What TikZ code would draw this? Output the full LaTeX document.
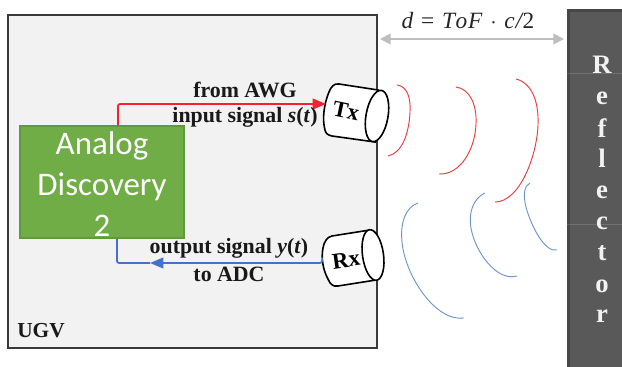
\documentclass[tikz,border=0pt]{standalone}
\usepackage{fontspec}
\setmainfont{Liberation Serif}
\newfontfamily\calibrilike{Carlito}
\usetikzlibrary{arrows.meta}
\definecolor{ugvfill}{HTML}{F2F2F2}
\definecolor{ugvedge}{HTML}{3A3A3A}
\definecolor{adgreen}{HTML}{70AD47}
\definecolor{adedge}{HTML}{5F9A3C}
\definecolor{reffill}{HTML}{595959}
\definecolor{refedge}{HTML}{474747}
\definecolor{sigred}{HTML}{F5222D}
\definecolor{sigblue}{HTML}{4472C4}
\definecolor{waveblue}{HTML}{6F94CF}
\definecolor{wavered}{HTML}{EE3B3B}
\definecolor{dimgray}{HTML}{BFBFBF}
\tikzset{
  lbl/.style={font=\fontsize{16.4}{18}\selectfont\bfseries, inner sep=0pt, text=black!90},
  reflet/.style={font=\fontsize{20}{21}\selectfont\bfseries, text=white!95!black, inner sep=0pt},
  sigline/.style={line width=1.3pt, rounded corners=1.5pt},
  sigtip/.style={-{Triangle[length=10pt,width=8pt]}},
  redwave/.style={draw=wavered, line width=0.7pt},
  bluewave/.style={draw=waveblue, line width=0.7pt},
  horn/.style={draw=black, line width=1.2pt, fill=white},
}
\begin{document}
\begin{tikzpicture}[x=0.75pt,y=-0.75pt]
\useasboundingbox (0,0) rectangle (622,367);
\fill[white] (0,0) rectangle (622,367);
% UGV body
\node[draw=ugvedge, fill=ugvfill, line width=1.2pt, minimum width=276.75pt, minimum height=249.75pt, inner sep=0pt] (ugv) at (192.5,181.5) {};
\node[lbl, font=\fontsize{16}{17}\selectfont\bfseries] (ugvlabel) at (41,331) {UGV};
% reflector
\node[draw=refedge, fill=reffill, line width=2.2pt, minimum width=41pt, minimum height=272pt, inner sep=0pt, anchor=north west] (reflector) at (567,9) {};
\draw[white, opacity=0.15, line width=0.5pt] (567,73) -- (622,73) (567,224) -- (622,224);
\node[reflet] (r1) at (602,65) {R};
\node[reflet] (r2) at (602,98) {e};
\node[reflet] (r3) at (602,128) {f};
\node[reflet] (r4) at (602,158) {l};
\node[reflet] (r5) at (602,192) {e};
\node[reflet] (r6) at (602,223) {c};
\node[reflet] (r7) at (602,253) {t};
\node[reflet] (r8) at (602,286) {o};
\node[reflet] (r9) at (602,316) {r};
% distance
\coordinate (dl) at (380,39);
\coordinate (dr) at (564,39);
\draw[dimgray, line width=1.6pt, {Triangle[length=8pt,width=8pt]}-{Triangle[length=8pt,width=8pt]}] (dl) -- (dr);
\node[inner sep=0pt, font=\fontsize{17.5}{19}\selectfont, text=black!85] (dist) at (468,21) {\textit{d}\,\,=\,\,\textit{T\kern0.5pt o\kern0.5pt F}\,\,$\cdot$\,\,\textit{c\kern0.5pt/\kern0.5pt}2};
% Analog Discovery
\node[draw=adedge, fill=adgreen, line width=1pt, minimum width=123pt, minimum height=84pt, inner sep=0pt] (ad) at (102,182) {};
\node[inner sep=0pt, text=white, font=\calibrilike\fontsize{24.7}{30.5}\selectfont, align=center] (adtext) at (102,184) {Analog\\Discovery\\2};
% antenna Tx
\coordinate (txin) at (326,104);
\draw[horn] (378,90) -- (339,84) .. controls (334,83) and (331,87) .. (329,92)
  .. controls (324,104) and (322,119) .. (325,130)
  .. controls (326,134) and (328,135) .. (332,136) -- (375,142) -- cycle;
\draw[horn, rotate around={-10:(377,116)}] (377,116) ellipse (11 and 26);
\node[inner sep=0pt, rotate=-12, font=\fontsize{17}{18}\selectfont\bfseries] (txtext) at (346,111) {Tx};
% antenna Rx
\coordinate (rxout) at (322,262);
\coordinate (bluetip) at (150,263);
\draw[horn] (370,230) -- (332,236) .. controls (327,237) and (324,242) .. (323,248)
  .. controls (321,258) and (323,270) .. (328,279)
  .. controls (330,284) and (333,287) .. (338,286) -- (376,280) -- cycle;
\draw[horn, rotate around={8:(373,255)}] (373,255) ellipse (10.5 and 25.5);
\node[inner sep=0pt, rotate=8, font=\fontsize{17}{18}\selectfont\bfseries] (rxtext) at (346,260) {Rx};
% connectors
\draw[sigline, sigred, sigtip] (ad.north -| 118,0) -- (118,104) -- (txin);
\draw[sigline, sigblue, sigtip] (rxout) -- (rxout |- bluetip) -- (bluetip);
\draw[sigline, sigblue] (bluetip) -- (117,263) -- (ad.south -| 117,0);
% labels
\node[lbl] (from) at (245,90) {from AWG};
\node[lbl] (inp) at (245,117) {input signal \textit{s}(\textit{t})};
\node[lbl] (outp) at (229,248) {output signal \textit{y}(\textit{t})};
\node[lbl] (toadc) at (229,274) {to ADC};
% waves
\draw[redwave] (397,85) .. controls (407,86) and (411,98) .. (410,112) .. controls (409,134) and (402,153) .. (388,156);
\draw[redwave] (456,87) .. controls (470,89) and (477,105) .. (476,124) .. controls (475,150) and (460,175) .. (439,174);
\draw[redwave] (516,79) .. controls (532,83) and (539,102) .. (538,125) .. controls (537,155) and (520,202) .. (495,202);
\draw[bluewave] (418,203) .. controls (406,207) and (400,222) .. (402,242) .. controls (405,275) and (435,322) .. (464,318);
\draw[bluewave] (485,193) .. controls (474,198) and (468,212) .. (471,228) .. controls (475,252) and (497,282) .. (517,276);
\draw[bluewave] (530,183) .. controls (524,186) and (523,195) .. (526,207) .. controls (531,226) and (545,253) .. (557,250);
\end{tikzpicture}
\end{document}
